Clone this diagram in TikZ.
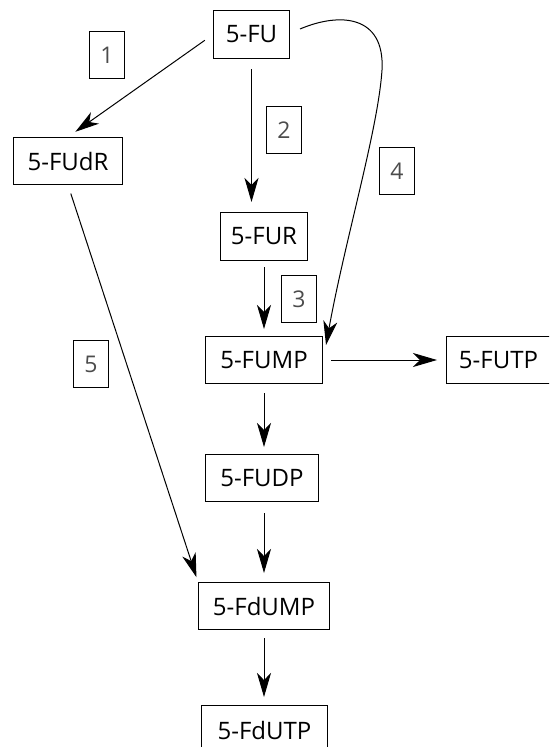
\documentclass[tikz,border=0pt]{standalone}
\usepackage{fontspec}
\setmainfont{Open Sans}
\usetikzlibrary{arrows.meta}
\begin{document}
\begin{tikzpicture}[x=1pt,y=-1pt,
  box/.style={draw,line width=1pt,inner sep=0pt,anchor=north west,font=\fontsize{24}{28}\selectfont},
  num/.style={draw,line width=1pt,inner sep=0pt,anchor=north west,minimum width=35pt,minimum height=47pt,text=black!70,font=\fontsize{23}{28}\selectfont},
  arr/.style={line width=1pt,-{Stealth[length=24pt,width=14pt,inset=7pt]}}]
\useasboundingbox (0,0) rectangle (549,747);
\clip (0,0) rectangle (549,747);
\node[box,minimum width=76pt,minimum height=48pt] (fu) at (213,10) {5-FU};
\node[box,minimum width=109pt,minimum height=47pt] (fudr) at (13,137) {5-FUdR};
\node[box,minimum width=87pt,minimum height=48pt] (fur) at (220,212) {5-FUR};
\node[box,minimum width=117pt,minimum height=47pt] (fump) at (205,336) {5-FUMP};
\node[box,minimum width=104pt,minimum height=47pt] (futp) at (446,336) {5-FUTP};
\node[box,minimum width=113pt,minimum height=47pt] (fudp) at (205,454) {5-FUDP};
\node[box,minimum width=131pt,minimum height=47pt] (fdump) at (198,582) {5-FdUMP};
\node[box,minimum width=126pt,minimum height=50pt] (fdutp) at (201,705) {5-FdUTP};
\node[num] (n1) at (89,31) {1};
\node[num] (n2) at (266,106) {2};
\node[num] (n3) at (281,275) {3};
\node[num] (n4) at (379,147) {4};
\node[num] (n5) at (73,340) {5};
\coordinate (c4) at (300,29);
\draw[arr,shorten <=10pt,shorten >=9pt] (fu.west) -- (fudr.north);
\draw[arr,shorten <=10pt,shorten >=10pt] (fu.south) -- (fu.south |- fur.north);
\draw[arr,shorten <=6pt,shorten >=7pt] (fur.south -| fump.north) -- (fump.north);
\draw[arr] (c4) .. controls (340,12) and (385,15) .. (382,70) .. controls (378,130) and (345,240) .. ([xshift=3pt,yshift=-9pt]fump.north east);
\draw[arr,shorten <=9pt,shorten >=5pt] (fudr.south) -- (fdump.north west);
\draw[arr,shorten <=8pt,shorten >=9pt] (fump.east) -- (futp.west);
\draw[arr,shorten <=9pt,shorten >=7pt] (fump.south) -- (fump.south |- fudp.north);
\draw[arr,shorten <=11pt,shorten >=9pt] (fump.south |- fudp.south) -- (fump.south |- fdump.north);
\draw[arr,shorten <=8pt,shorten >=8pt] (fump.south |- fdump.south) -- (fump.south |- fdutp.north);
\end{tikzpicture}
\end{document}
